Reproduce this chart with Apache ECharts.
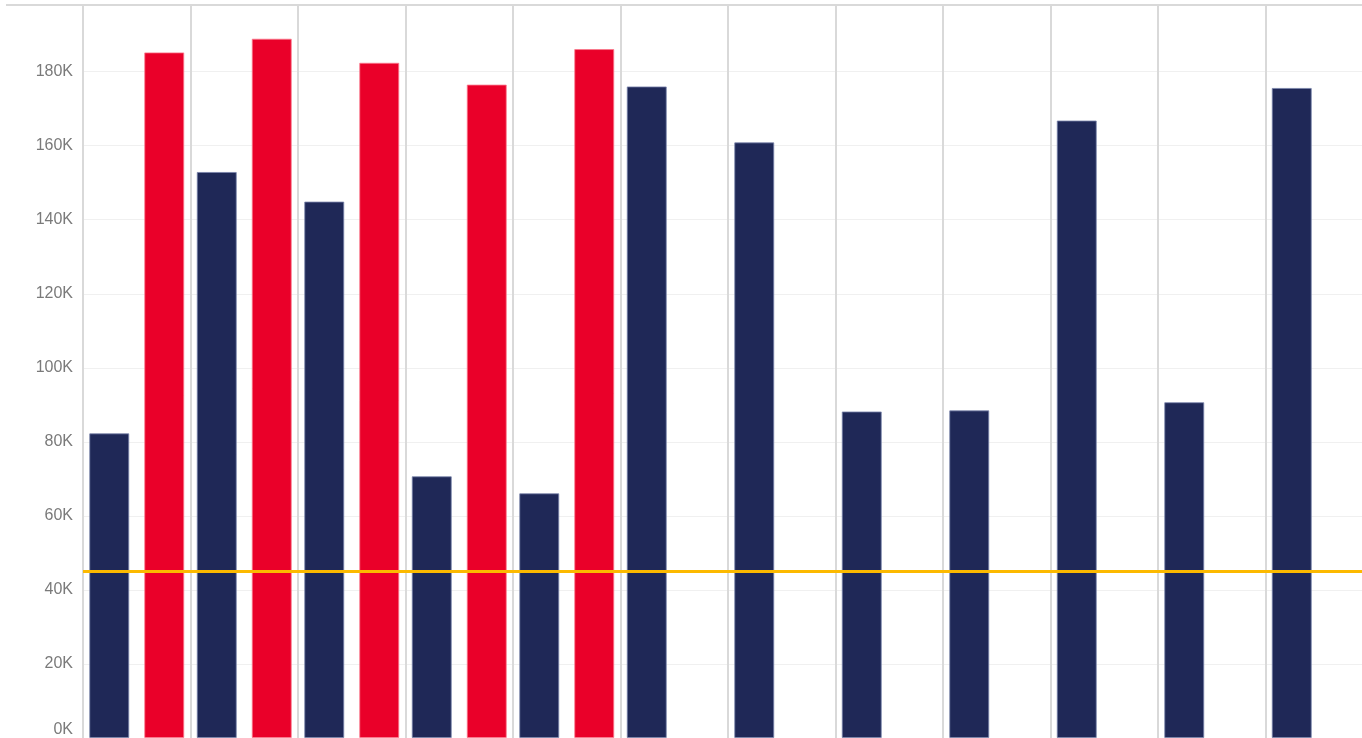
<!DOCTYPE html>
<html>
<head>
<meta charset="utf-8">
<script src="https://cdn.jsdelivr.net/npm/echarts@6/dist/echarts.min.js"></script>
<style>
html,body{margin:0;padding:0;background:#fff;overflow:hidden;}
#chart{width:1373px;height:738px;}
</style>
</head>
<body>
<div id="chart"></div>
<script>
const categories = ['C1','C2','C3','C4','C5','C6','C7','C8','C9','C10','C11','C12'];
const navyValues = [82300, 152900, 144900, 70700, 66100, 176000, 160900, 88200, 88500, 166800, 90700, 175600];
const redValues = [185200, 188900, 182400, 176500, 186100, null, null, null, null, null, null, null];
const referenceValue = 45000;
const yTicks = [0, 20000, 40000, 60000, 80000, 100000, 120000, 140000, 160000, 180000];

const chart = echarts.init(document.getElementById('chart'));
chart.setOption({
  animation: false,
  grid: { left: 83, right: 0, top: 5, bottom: -2, containLabel: false },
  graphic: [{
    type: 'line', shape: { x1: 6, y1: 5, x2: 1373, y2: 5 },
    style: { stroke: '#d9d9d9', lineWidth: 2 }, z: 10
  }],
  xAxis: {
    type: 'category', data: categories,
    axisLine: { show: false }, axisTick: { show: false }, axisLabel: { show: false },
    splitLine: { show: true, interval: 0, lineStyle: { color: '#d9d9d9', width: 2 } }
  },
  yAxis: {
    type: 'value', min: 0, max: 198000, interval: 20000,
    axisLine: { show: true, lineStyle: { color: '#d9d9d9', width: 2 } },
    axisTick: { show: false },
    axisLabel: {
      color: '#7a7a7a', fontSize: 16, fontFamily: 'Liberation Sans, Arial, sans-serif', margin: 10,
      verticalAlignMinLabel: 'bottom',
      formatter: v => (yTicks.indexOf(v) >= 0 ? (v / 1000) + 'K' : '')
    },
    splitLine: { show: true, lineStyle: { color: '#f0f0f0', width: 1 } }
  },
  series: [
    {
      type: 'bar', data: navyValues, barWidth: 40, barGap: '37.5%',
      itemStyle: { color: '#1f2857', borderColor: 'rgba(120,130,170,0.8)', borderWidth: 1 },
      markLine: {
        silent: true, symbol: 'none', label: { show: false },
        lineStyle: { color: '#fcb900', width: 3, type: 'solid' },
        data: [{ yAxis: referenceValue }], z: 20
      }
    },
    {
      type: 'bar', data: redValues, barWidth: 40,
      itemStyle: { color: '#ea0029', borderColor: 'rgba(250,120,140,0.8)', borderWidth: 1 }
    }
  ]
});
</script>
</body>
</html>
